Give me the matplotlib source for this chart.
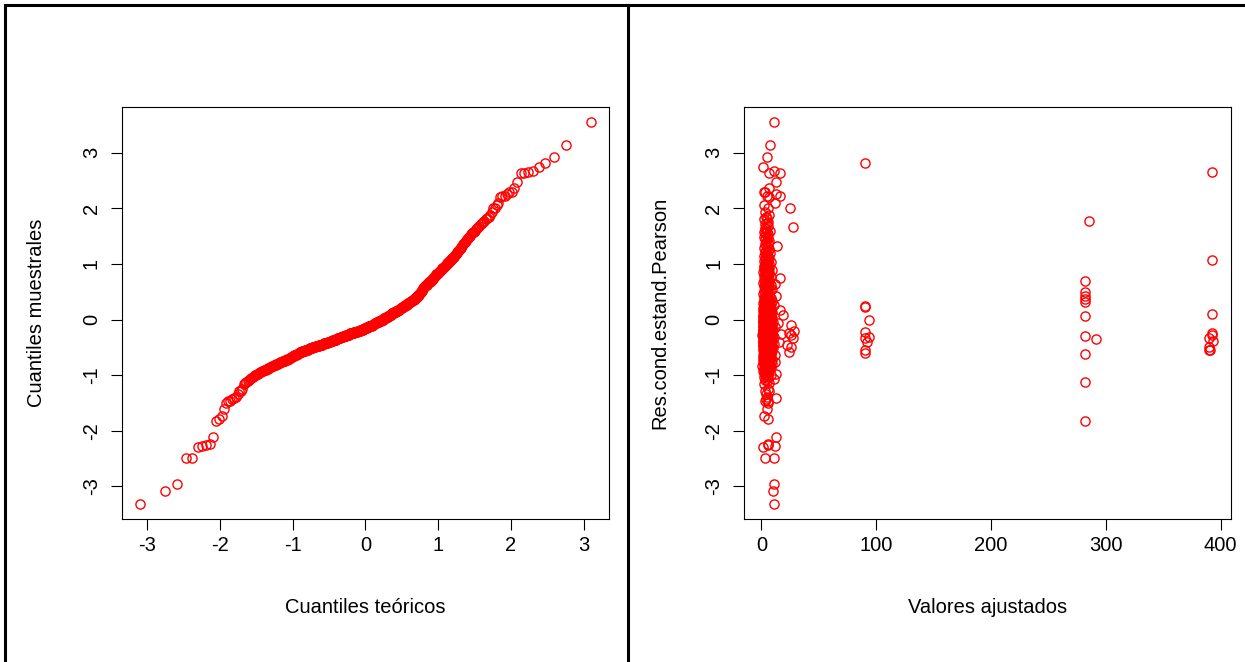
import matplotlib.pyplot as plt
import numpy as np
from statistics import NormalDist
from matplotlib.lines import Line2D

plt.rcParams['font.family'] = ['Liberation Sans', 'DejaVu Sans']
plt.rcParams['axes.unicode_minus'] = False

# residuos condicionales estandarizados de Pearson (ordenados)
residuos = np.array([
    -3.31, -3.08, -2.96, -2.49, -2.48, -2.29, -2.275, -2.26, -2.245, -2.11,
    -1.83, -1.78, -1.74, -1.60, -1.50, -1.47, -1.46, -1.435, -1.41, -1.40,
    -1.33, -1.29, -1.28, -1.24, -1.15, -1.14, -1.12, -1.11, -1.09, -1.07,
    -1.05, -1.03, -1.01, -1.00, -0.99, -0.98, -0.97, -0.96, -0.95, -0.94,
    -0.93, -0.92, -0.91, -0.90, -0.90, -0.89, -0.88, -0.87, -0.87, -0.86,
    -0.85, -0.84, -0.84, -0.83, -0.82, -0.81, -0.81, -0.80, -0.80, -0.79,
    -0.78, -0.78, -0.77, -0.77, -0.76, -0.76, -0.75, -0.75, -0.74, -0.74,
    -0.73, -0.72, -0.72, -0.71, -0.71, -0.70, -0.70, -0.69, -0.69, -0.68,
    -0.67, -0.67, -0.66, -0.65, -0.65, -0.64, -0.64, -0.63, -0.63, -0.62,
    -0.62, -0.61, -0.61, -0.60, -0.60, -0.59, -0.59, -0.58, -0.58, -0.58,
    -0.57, -0.57, -0.57, -0.56, -0.56, -0.56, -0.55, -0.55, -0.55, -0.54,
    -0.54, -0.54, -0.53, -0.53, -0.53, -0.52, -0.52, -0.52, -0.51, -0.51,
    -0.51, -0.50, -0.50, -0.50, -0.49, -0.49, -0.49, -0.49, -0.48, -0.48,
    -0.48, -0.48, -0.47, -0.47, -0.47, -0.47, -0.46, -0.46, -0.46, -0.46,
    -0.45, -0.45, -0.45, -0.45, -0.44, -0.44, -0.44, -0.44, -0.43, -0.43,
    -0.43, -0.43, -0.42, -0.42, -0.42, -0.42, -0.42, -0.41, -0.41, -0.41,
    -0.41, -0.40, -0.40, -0.40, -0.39, -0.39, -0.39, -0.38, -0.38, -0.38,
    -0.37, -0.37, -0.37, -0.37, -0.36, -0.36, -0.36, -0.36, -0.35, -0.35,
    -0.35, -0.35, -0.34, -0.34, -0.34, -0.34, -0.33, -0.33, -0.33, -0.33,
    -0.32, -0.32, -0.32, -0.31, -0.31, -0.31, -0.31, -0.30, -0.30, -0.30,
    -0.30, -0.29, -0.29, -0.29, -0.29, -0.28, -0.28, -0.28, -0.28, -0.27,
    -0.27, -0.27, -0.27, -0.26, -0.26, -0.26, -0.26, -0.25, -0.25, -0.25,
    -0.25, -0.25, -0.24, -0.24, -0.24, -0.24, -0.24, -0.23, -0.23, -0.23,
    -0.23, -0.23, -0.22, -0.22, -0.22, -0.22, -0.22, -0.21, -0.21, -0.21,
    -0.21, -0.20, -0.20, -0.20, -0.20, -0.19, -0.19, -0.19, -0.19, -0.18,
    -0.18, -0.18, -0.18, -0.17, -0.17, -0.17, -0.17, -0.16, -0.16, -0.16,
    -0.16, -0.15, -0.15, -0.15, -0.14, -0.14, -0.14, -0.13, -0.13, -0.13,
    -0.12, -0.12, -0.12, -0.12, -0.11, -0.11, -0.11, -0.11, -0.10, -0.10,
    -0.10, -0.09, -0.09, -0.08, -0.08, -0.08, -0.07, -0.07, -0.07, -0.06,
    -0.06, -0.06, -0.05, -0.05, -0.05, -0.04, -0.04, -0.04, -0.03, -0.03,
    -0.03, -0.02, -0.02, -0.02, -0.01, -0.01, -0.01, 0.00, 0.00, 0.00,
    0.01, 0.01, 0.02, 0.02, 0.02, 0.03, 0.03, 0.03, 0.04, 0.04,
    0.05, 0.05, 0.05, 0.06, 0.06, 0.07, 0.07, 0.08, 0.08, 0.08,
    0.09, 0.09, 0.10, 0.10, 0.11, 0.11, 0.11, 0.12, 0.12, 0.13,
    0.13, 0.13, 0.14, 0.14, 0.15, 0.15, 0.15, 0.16, 0.16, 0.17,
    0.17, 0.18, 0.18, 0.18, 0.19, 0.19, 0.20, 0.20, 0.21, 0.21,
    0.22, 0.22, 0.23, 0.23, 0.24, 0.24, 0.25, 0.25, 0.26, 0.26,
    0.27, 0.27, 0.28, 0.28, 0.29, 0.29, 0.30, 0.30, 0.31, 0.31,
    0.32, 0.33, 0.33, 0.34, 0.34, 0.35, 0.35, 0.36, 0.36, 0.37,
    0.37, 0.38, 0.39, 0.39, 0.40, 0.41, 0.42, 0.43, 0.44, 0.45,
    0.46, 0.47, 0.48, 0.49, 0.50, 0.52, 0.53, 0.54, 0.55, 0.57,
    0.58, 0.59, 0.60, 0.61, 0.62, 0.62, 0.63, 0.64, 0.65, 0.66,
    0.67, 0.67, 0.68, 0.69, 0.70, 0.71, 0.72, 0.73, 0.74, 0.76,
    0.77, 0.78, 0.79, 0.80, 0.81, 0.82, 0.83, 0.84, 0.85, 0.86,
    0.87, 0.88, 0.89, 0.91, 0.92, 0.93, 0.94, 0.95, 0.96, 0.97,
    0.98, 1.00, 1.01, 1.02, 1.04, 1.05, 1.06, 1.07, 1.09, 1.10,
    1.11, 1.13, 1.14, 1.16, 1.18, 1.20, 1.21, 1.23, 1.25, 1.27,
    1.29, 1.31, 1.33, 1.36, 1.38, 1.40, 1.42, 1.45, 1.47, 1.49,
    1.51, 1.53, 1.55, 1.57, 1.58, 1.60, 1.62, 1.64, 1.67, 1.69,
    1.71, 1.73, 1.75, 1.78, 1.80, 1.82, 1.85, 1.88, 1.93, 2.00,
    2.01, 2.05, 2.09, 2.20, 2.22, 2.22, 2.25, 2.286, 2.30, 2.36,
    2.48, 2.63, 2.64, 2.645, 2.675, 2.75, 2.81, 2.93, 3.14, 3.546,
])

# valor ajustado de cada observacion, en el mismo orden que residuos
ajustados = np.array([
    11.3, 9.8, 11.3, 3.5, 11.3, 1.1, 11.6, 5.5, 6.0, 12.7,
    282, 5.5, 2.0, 4.9, 5.5, 3.0, 6.0, 4.0, 12.7, 5.0,
    4.0, 6.5, 3.0, 5.5, 2.5, 7.0, 281.5, 4.5, 3.0, 10.7,
    5.0, 2.0, 6.0, 3.5, 8.0, 4.0, 13.0, 2.5, 5.5, 3.0,
    7.0, 1.5, 4.5, 6.0, 3.0, 5.0, 2.0, 8.5, 4.0, 6.5,
    3.0, 5.5, 0.5, 7.5, 4.0, 2.5, 6.0, 9.0, 3.5, 5.0,
    2.0, 6.5, 4.5, 8.0, 12.2, 3.0, 5.5, 1.5, 7.0, 4.0,
    6.0, 3.0, 9.5, 2.0, 5.0, 7.5, 4.0, 1.0, 6.5, 3.5,
    5.0, 8.0, 2.5, 4.5, 7.0, 12.2, 3.0, 6.0, 1.5, 5.5,
    4.0, 8.5, 282, 2.0, 90, 6.0, 3.5, 23.8, 5.0, 7.5,
    2.5, 4.5, 9.0, 6.5, 3.0, 5.5, 90, 1.0, 7.0, 4.0,
    391, 390, 6.0, 3.0, 8.0, 5.0, 2.0, 10.0, 4.5, 6.5,
    3.5, 7.0, 1.5, 5.0, 390, 25.3, 4.0, 8.5, 2.5, 6.0,
    3.0, 5.5, 9.5, 2.0, 7.0, 4.5, 6.0, 1.0, 3.5, 8.0,
    22.3, 5.0, 2.5, 6.5, 4.0, 7.5, 3.0, 11.0, 5.5, 1.5,
    6.0, 4.0, 8.0, 2.0, 5.0, 7.0, 3.5, 92, 9.0, 4.5,
    2.5, 15.7, 6.0, 3.0, 393, 5.5, 8.5, 1.5, 4.0, 7.0,
    3.0, 6.5, 2.0, 5.0, 9.0, 4.5, 7.5, 1.0, 291.6, 5.5,
    3.5, 6.0, 90, 2.5, 8.0, 4.0, 390, 27.3, 5.0, 7.0,
    2.0, 94, 4.5, 6.5, 3.0, 10.5, 5.5, 281.5, 1.5, 8.0,
    4.0, 6.0, 2.5, 7.5, 5.0, 26.1, 392, 3.0, 9.0, 5.5,
    0.5, 7.0, 4.0, 17.1, 6.0, 3.0, 8.5, 23.8, 5.0, 2.0,
    6.5, 4.5, 392, 3.5, 7.0, 1.5, 5.5, 9.5, 3.0, 6.0,
    4.0, 8.0, 90, 2.5, 5.0, 7.0, 3.0, 28.1, 6.0, 1.0,
    5.5, 3.5, 8.5, 2.0, 6.5, 4.0, 10.0, 5.0, 7.5, 3.0,
    1.5, 6.0, 4.5, 9.0, 2.5, 5.5, 7.0, 3.5, 4.0, 8.0,
    2.0, 5.0, 6.5, 3.0, 11.5, 4.5, 1.0, 7.0, 5.5, 3.5,
    6.0, 8.5, 2.5, 4.0, 5.0, 7.5, 3.0, 1.5, 25.3, 6.5,
    4.5, 2.0, 9.0, 5.5, 3.5, 6.0, 14.5, 1.0, 7.0, 4.0,
    5.0, 3.0, 8.0, 2.5, 6.5, 4.5, 10.0, 5.5, 1.5, 7.5,
    3.5, 6.0, 2.0, 4.0, 8.5, 5.0, 3.0, 94, 7.0, 1.0,
    4.5, 6.5, 2.5, 5.5, 9.5, 3.0, 7.0, 4.0, 1.5, 6.0,
    3.5, 5.0, 8.0, 2.0, 6.0, 4.5, 281.5, 18.6, 3.0, 7.5,
    5.5, 1.0, 392, 4.0, 6.5, 2.5, 8.5, 5.0, 3.5, 7.0,
    2.0, 4.5, 6.0, 9.0, 3.0, 5.5, 1.5, 7.5, 4.0, 16.0,
    6.5, 3.0, 5.0, 8.0, 2.5, 4.5, 7.0, 1.0, 5.5, 3.5,
    90, 6.0, 4.0, 2.0, 7.5, 5.0, 3.0, 90, 6.5, 10.5,
    4.5, 2.5, 5.5, 8.0, 3.5, 6.0, 1.5, 7.0, 281.5, 4.0,
    5.0, 3.0, 9.0, 6.5, 2.0, 4.5, 7.5, 5.5, 3.5, 281.5,
    6.0, 2.5, 4.0, 8.5, 5.0, 3.0, 13.0, 281.5, 7.0, 4.5,
    1.5, 6.0, 3.5, 281.5, 5.5, 2.0, 7.5, 4.0, 9.5, 3.0,
    5.0, 6.5, 2.5, 4.5, 8.0, 3.5, 6.0, 11.6, 1.0, 5.5,
    4.0, 7.0, 3.0, 5.0, 281.5, 2.0, 6.5, 4.5, 16.5, 3.5,
    8.5, 5.5, 2.5, 6.0, 4.0, 7.0, 3.0, 5.0, 1.5, 6.5,
    4.5, 3.0, 9.0, 5.5, 2.0, 7.0, 4.0, 6.0, 3.5, 2.0,
    5.0, 6.5, 3.0, 4.5, 8.0, 2.5, 5.5, 392, 4.0, 7.0,
    3.5, 6.0, 2.0, 5.0, 4.5, 7.5, 3.0, 5.5, 4.0, 6.5,
    2.5, 5.0, 13.6, 3.5, 6.0, 4.0, 7.0, 3.0, 5.5, 2.0,
    4.5, 6.0, 3.0, 5.0, 2.5, 7.5, 4.0, 3.5, 27.3, 5.5,
    3.0, 4.5, 6.0, 285.5, 2.5, 5.0, 4.0, 6.5, 3.0, 5.5,
    24.7, 2.0, 12.2, 7.0, 4.9, 16.0, 12.7, 3.0, 2.6, 6.4,
    12.7, 6.4, 16.5, 392, 11.3, 1.1, 90, 4.9, 7.8, 11.3,
])

ticks_qq = [-3, -2, -1, 0, 1, 2, 3]
ticks_res = [-3, -2, -1, 0, 1, 2, 3]
ticks_aj = [0, 100, 200, 300, 400]

# cuantiles teoricos como en qqnorm de R: ppoints(n) = (i - 0.5) / n
n = len(residuos)
probs = (np.arange(1, n + 1) - 0.5) / n
teoricos = np.array([NormalDist().inv_cdf(p) for p in probs])
muestrales = np.sort(residuos)

TAM = 14.5

fig = plt.figure(figsize=(12.45, 6.62), dpi=100)
ax1 = fig.add_axes([0.0978, 0.216, 0.3914, 0.6224])
ax2 = fig.add_axes([0.5976, 0.216, 0.3909, 0.6224])


def estilo_r(ax, xticks, yticks, xlabel, ylabel):
    ax.margins(0.04)
    ax.set_xticks(xticks)
    ax.set_yticks(yticks)
    ax.set_xticklabels([str(t) for t in xticks])
    ax.set_yticklabels([str(t) for t in yticks], rotation=90, va="center")
    ax.tick_params(direction="out", length=8, width=0.8, labelsize=TAM, color="black")
    ax.tick_params(axis="x", pad=4)
    ax.tick_params(axis="y", pad=7)
    for s in ax.spines.values():
        s.set_linewidth(0.8)
    ax.set_xlabel(xlabel, fontsize=TAM, va="center")
    ax.set_ylabel(ylabel, fontsize=TAM, va="center")
    ax.xaxis.set_label_coords(0.5, -0.2136)


marca = dict(linestyle="none", marker="o", mfc="none", mec="red", ms=6.6, mew=1.0)

ax1.plot(teoricos, muestrales, **marca)
estilo_r(ax1, ticks_qq, ticks_res, "Cuantiles teóricos", "Cuantiles muestrales")
ax1.yaxis.set_label_coords(-0.174, 0.5)

ax2.plot(ajustados, residuos, **marca)
estilo_r(ax2, ticks_aj, ticks_res, "Valores ajustados", "Res.cond.estand.Pearson")
ax2.yaxis.set_label_coords(-0.1726, 0.5)

# marco exterior y separador entre los dos paneles
borde = dict(transform=fig.transFigure, color="black", linewidth=2.2)
fig.add_artist(Line2D([0.004, 1.0], [0.9925, 0.9925], **borde))
fig.add_artist(Line2D([0.004, 0.004], [0.0, 0.9925], **borde))
fig.add_artist(Line2D([0.5044, 0.5044], [0.0, 0.9925], **borde))

fig.savefig("out.png", dpi=100)
